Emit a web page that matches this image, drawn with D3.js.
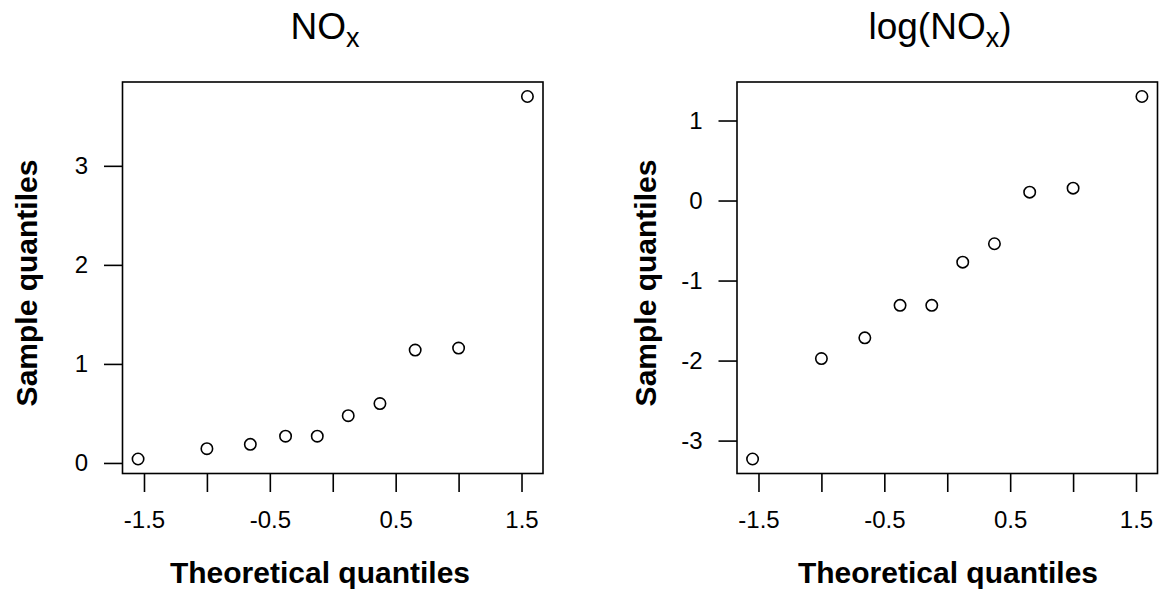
<!DOCTYPE html>
<html>
<head>
<meta charset="UTF-8">
<title>QQ plots NOx</title>
<script src="https://d3js.org/d3.v7.min.js"></script>
<style>
  body { margin: 0; background: #fff; }
  text { font-family: "Liberation Sans", Arial, sans-serif; fill: #000; }
</style>
</head>
<body>
<div id="chart"></div>
<script>
// theoretical normal quantiles (n = 10)
const theoretical = [-1.547, -1.000, -0.655, -0.375, -0.123, 0.123, 0.375, 0.655, 1.000, 1.547];
// sample quantiles
const noxValues = [0.04, 0.144, 0.188, 0.27, 0.27, 0.477, 0.60, 1.14, 1.16, 3.70];
const logNoxValues = [-3.23, -1.975, -1.716, -1.31, -1.31, -0.77, -0.54, 0.105, 0.155, 1.30];

const xTicks = [-1.5, -1, -0.5, 0, 0.5, 1, 1.5];
const xTickLabels = [-1.5, -0.5, 0.5, 1.5];
const noxTicks = [0, 1, 2, 3];
const logNoxTicks = [-3, -2, -1, 0, 1];

const W = 1163, H = 597;
const svg = d3.select("#chart").append("svg").attr("width", W).attr("height", H);

// R style 4% range extension
function extend(v) {
  const e = d3.extent(v), d = (e[1] - e[0]) * 0.04;
  return [e[0] - d, e[1] + d];
}

const panels = [
  { left: 122.5, right: 543, ys: noxValues, yt: noxTicks, main: ["NO", "x", ""], mainX: 325, ylabX: 36.5, xlabX: 320 },
  { left: 737, right: 1157.5, ys: logNoxValues, yt: logNoxTicks, main: ["log(NO", "x", ")"], mainX: 940, ylabX: 656, xlabX: 948 }
];
const boxTop = 82, boxBottom = 473.5;

panels.forEach(p => {
  const g = svg.append("g");
  const x = d3.scaleLinear().domain(extend(theoretical)).range([p.left, p.right]);
  const y = d3.scaleLinear().domain(extend(p.ys)).range([boxBottom, boxTop]);

  const xa = g.append("g").attr("transform", `translate(0,${boxBottom})`)
    .call(d3.axisBottom(x).tickValues(xTicks).tickSize(18.5).tickPadding(19)
      .tickFormat(d => xTickLabels.includes(d) ? d3.format("")(d) : ""));
  const ya = g.append("g").attr("transform", `translate(${p.left},0)`)
    .call(d3.axisLeft(y).tickValues(p.yt).tickSize(18.5).tickPadding(16).tickFormat(d3.format("")));
  [xa, ya].forEach(a => {
    a.select(".domain").remove();
    a.selectAll("line").attr("stroke", "#000").attr("stroke-width", 1.6);
    a.selectAll("text").attr("font-size", 24).attr("font-family", "Liberation Sans, Arial, sans-serif")
      .text(function () { return this.textContent.replace("−", "-"); });
  });

  g.append("rect").attr("x", p.left).attr("y", boxTop)
    .attr("width", p.right - p.left).attr("height", boxBottom - boxTop)
    .attr("fill", "none").attr("stroke", "#000").attr("stroke-width", 1.6);

  g.selectAll("circle").data(theoretical).enter().append("circle")
    .attr("cx", d => x(d)).attr("cy", (d, i) => y(p.ys[i])).attr("r", 5.7)
    .attr("fill", "none").attr("stroke", "#000").attr("stroke-width", 1.6);

  const t = g.append("text").attr("x", p.mainX).attr("y", 39.3)
    .attr("text-anchor", "middle").attr("font-size", 37);
  t.append("tspan").text(p.main[0]);
  t.append("tspan").text(p.main[1]).attr("font-size", 27).attr("dy", 8);
  if (p.main[2]) t.append("tspan").text(p.main[2]).attr("dy", -8);

  g.append("text").attr("x", p.xlabX).attr("y", 583.3).attr("text-anchor", "middle")
    .attr("font-size", 30).attr("font-weight", "bold").text("Theoretical quantiles");

  g.append("text").attr("transform", `translate(${p.ylabX},283) rotate(-90)`)
    .attr("text-anchor", "middle").attr("font-size", 30).attr("font-weight", "bold")
    .text("Sample quantiles");
});
</script>
</body>
</html>
